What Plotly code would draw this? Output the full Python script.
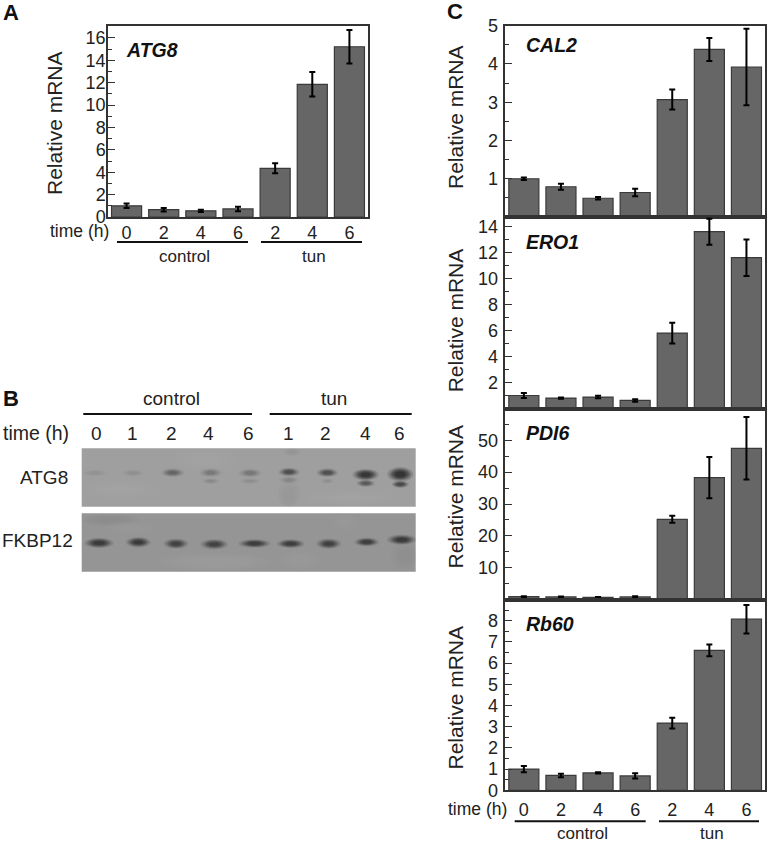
import plotly.graph_objects as go

W, H = 768, 843
times = ["0", "2", "4", "6", "2", "4", "6"]
x_idx = [0, 1, 2, 3, 4, 5, 6]

atg8 = [1.0, 0.65, 0.55, 0.72, 4.35, 11.85, 15.2]
atg8_err = [0.2, 0.15, 0.1, 0.2, 0.45, 1.1, 1.5]
cal2 = [1.0, 0.79, 0.49, 0.64, 3.07, 4.38, 3.92]
cal2_err = [0.03, 0.08, 0.03, 0.1, 0.26, 0.3, 1.0]
ero1 = [1.0, 0.8, 0.88, 0.62, 5.8, 13.6, 11.6]
ero1_err = [0.2, 0.05, 0.1, 0.1, 0.8, 1.0, 1.4]
pdi6 = [0.9, 0.8, 0.65, 0.8, 25.2, 38.3, 47.5]
pdi6_err = [0.1, 0.15, 0.1, 0.2, 1.1, 6.5, 9.8]
rb60 = [1.0, 0.7, 0.82, 0.68, 3.17, 6.6, 8.07]
rb60_err = [0.15, 0.08, 0.03, 0.12, 0.25, 0.28, 0.67]

atg8_ticks = [0, 2, 4, 6, 8, 10, 12, 14, 16]
cal2_ticks = [1, 2, 3, 4, 5]
ero1_ticks = [2, 4, 6, 8, 10, 12, 14]
pdi6_ticks = [10, 20, 30, 40, 50]
rb60_ticks = [0, 1, 2, 3, 4, 5, 6, 7, 8]

# Blot bands: centre x, centre y, width, height, darkness
atg8_bands = [
    (95, 473, 18, 5, .06), (133, 473, 16, 5, .08), (172.7, 472.7, 16, 6, .38),
    (210.7, 472.7, 16, 6, .22), (210.7, 481, 12, 4, .12),
    (250, 473, 16, 6, .24), (250, 481, 14, 4, .09),
    (289, 472, 15, 6, .6), (289, 480, 14, 5, .14),
    (327.3, 472.7, 15, 6, .6), (327.3, 481, 10, 4, .08),
    (365.7, 474.7, 18, 8, .95), (365.7, 483.3, 13, 5, .5),
    (400.3, 474.3, 18, 10, 1.0), (400.3, 484.3, 12, 5, .68),
]
fkbp_bands = [
    (99, 543, 20, 7, .82), (138.3, 542.3, 17, 7, .82), (176, 543.7, 17, 7, .72),
    (214.3, 544.3, 19, 7, .72), (254.5, 543.5, 22, 6, .78), (290.7, 543.7, 19, 6, .78),
    (328.7, 543.7, 17, 7, .74), (366.7, 542, 17, 6, .78), (401.7, 539.7, 20, 7, .82),
]
# Soft background blotches of the film: centre x, centre y, width, height, colour, opacity
atg8_blotches = [
    (289, 495, 22, 28, "#7c7c7c", .14), (292, 452, 16, 8, "#7c7c7c", .2),
    (205, 460, 60, 20, "#b4b4b4", .2), (120, 490, 70, 18, "#b0b0b0", .18),
    (350, 498, 90, 14, "#b0b0b0", .15),
]
fkbp_blotches = [
    (110, 520, 60, 12, "#7e7e7e", .25), (130, 528, 50, 14, "#aaaaaa", .2),
    (215, 562, 110, 18, "#a8a8a8", .25), (300, 560, 40, 20, "#a4a4a4", .2),
    (345, 522, 24, 18, "#a8a8a8", .2), (405, 556, 28, 28, "#848484", .25),
]
blot_lanes = ["0", "1", "2", "4", "6", "1", "2", "4", "6"]
blot_lane_x = [96.7, 132.7, 171, 208.3, 248, 288.3, 325, 365, 399]

BAR = "#666666"
EDGE = "#3a3a3a"
FONT = "Liberation Sans, Arial, sans-serif"


def px(x):
    return x / W


def py(y):
    return 1 - y / H


panels = [
    ("", "", atg8, atg8_err, (108, 368), (25.7, 217), (0, 17.08), atg8_ticks, 1, True, -1, -3),
    ("2", "2", cal2, cal2_err, (505.3, 765), (25.7, 217), (0, 5), cal2_ticks, .5, False, 0, 2),
    ("3", "3", ero1, ero1_err, (505.3, 765), (217, 408.5), (0, 14.73), ero1_ticks, 1, False, 0, 2),
    ("4", "4", pdi6, pdi6_err, (505.3, 765), (408.5, 599.5), (0, 60), pdi6_ticks, 5, False, 0, 2),
    ("5", "5", rb60, rb60_err, (505.3, 765), (599.5, 790.3), (0, 9), rb60_ticks, .5, True, 2, 2),
]

fig = go.Figure()
layout = dict(
    width=W, height=H, margin=dict(l=0, r=0, t=0, b=0, autoexpand=False), autosize=False,
    paper_bgcolor="white", plot_bgcolor="white", showlegend=False,
    font=dict(family=FONT, color="#222222"),
)

for xn, yn, vals, errs, xd, yd, yr, yticks, mdt, show_x, xoff, yoff in panels:
    fig.add_trace(go.Bar(
        x=x_idx, y=vals, xaxis="x" + xn, yaxis="y" + yn,
        width=0.81, marker=dict(color=BAR, line=dict(color=EDGE, width=1.2)),
        error_y=dict(type="data", array=errs, visible=True, color="#000000", thickness=2, width=3),
    ))
    layout["xaxis" + xn] = dict(
        domain=[px(xd[0]), px(xd[1])], range=[-0.5, 6.5], anchor="y" + yn,
        tickmode="array", tickvals=x_idx if show_x else [], ticktext=times if show_x else [],
        ticks="", showgrid=False, zeroline=False, showline=True, mirror=True,
        linecolor="#333333", linewidth=1.5, tickfont=dict(size=18, color="#222222"),
        ticklabelstandoff=xoff,
    )
    layout["yaxis" + yn] = dict(
        domain=[py(yd[1]), py(yd[0])], range=list(yr), anchor="x" + xn,
        tickmode="array", tickvals=yticks,
        ticks="inside", ticklen=7, tickwidth=1.3, tickcolor="#333333",
        showgrid=False, zeroline=False, showline=True, mirror=True,
        linecolor="#333333", linewidth=1.5, tickfont=dict(size=18, color="#222222"),
        minor=dict(tickmode="linear", tick0=0, dtick=mdt, ticks="inside", ticklen=4,
                   tickwidth=1.1, tickcolor="#333333", showgrid=False),
        ticklabelstandoff=yoff,
    )

annotations = []
shapes = []


def text(s, x, y, size, anchor="center", bold=False, italic=False, angle=0, color="#222222"):
    if bold:
        s = "<b>" + s + "</b>"
    if italic:
        s = "<i>" + s + "</i>"
    annotations.append(dict(
        text=s, x=px(x), y=py(y), xref="paper", yref="paper", showarrow=False,
        xanchor=anchor, yanchor="middle", textangle=angle,
        font=dict(size=size, family=FONT, color=color),
    ))


def rule(x0, x1, y):
    shapes.append(dict(type="line", xref="paper", yref="paper",
                       x0=px(x0), x1=px(x1), y0=py(y), y1=py(y),
                       line=dict(color="#111111", width=2)))


# Panel letters
text("A", 1, 13, 22, "left", bold=True, color="#111111")
text("B", 1, 399, 22, "left", bold=True, color="#111111")
text("C", 445, 12, 22, "left", bold=True, color="#111111")

# Gene names
text("ATG8", 124, 50, 19.5, "left", bold=True, italic=True, color="#111111")
text("CAL2", 524, 45, 19.5, "left", bold=True, italic=True, color="#111111")
text("ERO1", 524, 241.7, 19.5, "left", bold=True, italic=True, color="#111111")
text("PDI6", 524, 433, 19.5, "left", bold=True, italic=True, color="#111111")
text("Rb60", 524, 624, 19.5, "left", bold=True, italic=True, color="#111111")

# y axis titles
for tx, ty in [(55, 123), (455, 117), (455, 320.3), (455, 496.5), (455, 697.5)]:
    text("Relative mRNA", tx, ty, 21, angle=-90)

# Panel A footer
text("time (h)", 111, 231, 17.5, "right")
rule(117, 248, 242)
rule(261, 362, 242)
text("control", 184.5, 256, 17)
text("tun", 314, 256, 17)

# Panel C footer
text("time (h)", 509, 809, 17.5, "right")
rule(514.7, 645.7, 821.3)
rule(659, 759, 821.3)
text("control", 582, 833.5, 17)
text("tun", 711.7, 833.5, 17)

# Panel B header
text("control", 171.7, 399, 19)
text("tun", 334, 399, 19)
rule(83.3, 252, 414)
rule(269.7, 411.7, 414)
text("time (h)", 1, 433, 19.5, "left")
for lab, lx in zip(blot_lanes, blot_lane_x):
    text(lab, lx, 433, 19)
text("ATG8", 70, 477.7, 19, "right")
text("FKBP12", 74.5, 540, 19, "right")

# Blots: own axes in the picture's lane coordinates
for xn, bg, yd, bands, blotches in [("6", "#9f9f9f", (448.3, 506.7), atg8_bands, atg8_blotches),
                                    ("7", "#959595", (513.3, 571.7), fkbp_bands, fkbp_blotches)]:
    layout["xaxis" + xn] = dict(domain=[px(81.7), px(415.7)], range=[81.7, 415.7],
                                anchor="y" + xn, visible=False)
    layout["yaxis" + xn] = dict(domain=[py(yd[1]), py(yd[0])], range=[yd[1], yd[0]],
                                anchor="x" + xn, visible=False)
    fig.add_trace(go.Scatter(x=[b[0] for b in bands], y=[b[1] for b in bands],
                             xaxis="x" + xn, yaxis="y" + xn, mode="markers",
                             marker=dict(size=1, opacity=0), hoverinfo="skip"))
    shapes.append(dict(type="rect", xref="x" + xn + " domain", yref="y" + xn + " domain",
                       x0=0, x1=1, y0=0, y1=1, fillcolor=bg, line_width=0, layer="below"))
    for bx, by, bw, bh, col, op in blotches:
        for scale in (1.0, .75, .5):
            shapes.append(dict(type="circle", xref="x" + xn, yref="y" + xn,
                               x0=max(bx - bw * scale / 2, 81.7), x1=min(bx + bw * scale / 2, 415.7),
                               y0=max(by - bh * scale / 2, yd[0]), y1=min(by + bh * scale / 2, yd[1]),
                               fillcolor=col, opacity=op * .5, line_width=0))
    for bx, by, bw, bh, dark in bands:
        for scale, share in [(1.45, .16), (1.2, .22), (1.0, .28), (.8, .32), (.55, .4)]:
            shapes.append(dict(type="circle", xref="x" + xn, yref="y" + xn,
                               x0=bx - bw * scale / 2, x1=bx + bw * scale / 2,
                               y0=by - bh * scale / 2, y1=by + bh * scale / 2,
                               fillcolor="#1c1c1c", opacity=dark * share, line_width=0))

layout["annotations"] = annotations
layout["shapes"] = shapes
fig.update_layout(**layout)
fig.write_html("out.html", config={"displayModeBar": False},
               post_script="document.body.style.margin='0';document.documentElement.style.overflow='hidden';")
